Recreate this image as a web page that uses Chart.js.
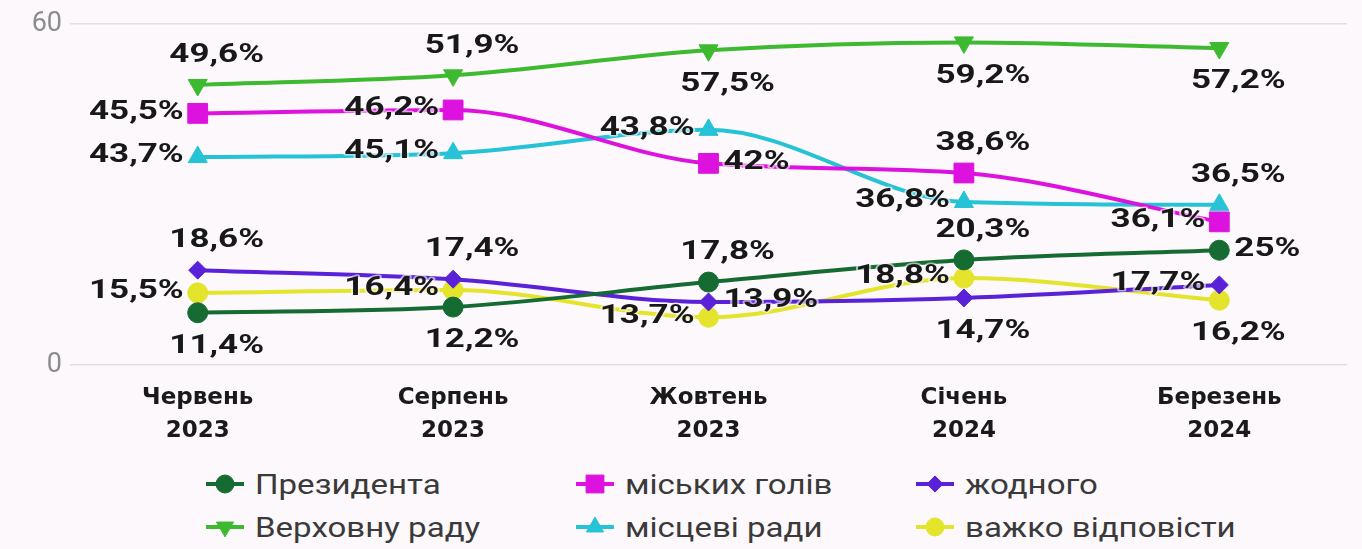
<!DOCTYPE html>
<html lang="uk">
<head>
<meta charset="utf-8">
<title>Довіра до інституцій</title>
<script src="https://cdn.jsdelivr.net/npm/chart.js@4.4.1/dist/chart.umd.min.js"></script>
<style>
    html, body {
        margin: 0;
        padding: 0;
        background: #fcf8fb;
        width: 1362px;
        height: 549px;
        overflow: hidden;
    }
    #wrap {
        position: absolute;
        left: 0;
        top: 0;
        width: 1362px;
        height: 450px;
    }
    .lg-item {
        position: absolute;
        display: flex;
        align-items: center;
        height: 30px;
        white-space: nowrap;
    }
    .lg-item canvas {
        display: block;
    }
    .lg-item span {
        display: inline-block;
        margin-left: 10px;
        font: 28px Roboto, sans-serif;
        color: #3a3a3a;
        transform: scaleX(1.18);
        transform-origin: left center;
    }
</style>
</head>
<body>
<div id="wrap"><canvas id="trustChart"></canvas></div>
<div id="legend"></div>
<script>
// Categories (survey waves)
const months = [
    ['Червень', '2023'],
    ['Серпень', '2023'],
    ['Жовтень', '2023'],
    ['Січень', '2024'],
    ['Березень', '2024']
];

// Printed values (the data labels), %
const presidentShare = [11.4, 12.2, 17.8, 20.3, 25];
const radaShare      = [49.6, 51.9, 57.5, 59.2, 57.2];
const mayorsShare    = [45.5, 46.2, 42, 38.6, 36.1];
const localShare     = [43.7, 45.1, 43.8, 36.8, 36.5];
const noneShare      = [18.6, 17.4, 13.9, 14.7, 17.7];
const hardShare      = [15.5, 16.4, 13.7, 18.8, 16.2];

// Heights at which the markers sit on the 0–60 axis
const presidentLevel = [9.2, 10.2, 14.6, 18.5, 20.2];
const radaLevel      = [49.3, 51.0, 55.4, 56.8, 55.8];
const mayorsLevel    = [44.3, 44.9, 35.5, 33.8, 25.2];
const localLevel     = [36.6, 37.3, 41.4, 28.7, 28.2];
const noneLevel      = [16.7, 15.1, 11.1, 11.8, 14.1];
const hardLevel      = [12.7, 13.2, 8.4, 15.3, 11.4];

const yTicks = [0, 60];

// Where each value label sits relative to its marker
const presidentPos = ['bottom', 'bottom', 'top', 'top', 'right'];
const radaPos      = ['top', 'top', 'bottom', 'bottom', 'bottom'];
const mayorsPos    = ['left', 'left', 'right', 'top', 'left'];
const localPos     = ['left', 'left', 'left', 'left', 'top'];
const nonePos      = ['top', 'top', 'right', 'bottom', 'left'];
const hardPos      = ['left', 'left', 'left', 'left', 'bottom'];

const series = [
    { label: 'Президента',        color: '#156b31', style: 'circle',   radius: 10, rotation: 0,   level: presidentLevel, share: presidentShare, pos: presidentPos },
    { label: 'міських голів',     color: '#de12de', style: 'rect',     radius: 14, rotation: 0,   level: mayorsLevel,    share: mayorsShare,    pos: mayorsPos },
    { label: 'жодного',           color: '#5a22d8', style: 'rectRot',  radius: 9,  rotation: 0,   level: noneLevel,      share: noneShare,      pos: nonePos },
    { label: 'Верховну раду',     color: '#3dba30', style: 'triangle', radius: 11, rotation: 180, level: radaLevel,      share: radaShare,      pos: radaPos },
    { label: 'місцеві ради',      color: '#26c2d6', style: 'triangle', radius: 11, rotation: 0,   level: localLevel,     share: localShare,     pos: localPos },
    { label: 'важко відповісти',  color: '#e4e42c', style: 'circle',   radius: 10, rotation: 0,   level: hardLevel,      share: hardShare,      pos: hardPos }
];

const LABEL_STRETCH = 1.4;

function fmtShare(v) {
    return String(v).replace('.', ',') + '%';
}

// Value labels next to the markers
const pointLabels = {
    id: 'pointLabels',
    afterDatasetsDraw(chart) {
        const ctx = chart.ctx;
        ctx.save();
        ctx.font = 'bold 25px Roboto';
        ctx.textBaseline = 'middle';
        ctx.lineJoin = 'round';
        chart.data.datasets.forEach((ds, i) => {
            const meta = chart.getDatasetMeta(i);
            meta.data.forEach((pt, j) => {
                const text = fmtShare(ds.share[j]);
                const w = ctx.measureText(text).width * LABEL_STRETCH;
                let x, y;
                switch (ds.pos[j]) {
                    case 'top':    x = pt.x + 19 - w / 2; y = pt.y - 29; break;
                    case 'bottom': x = pt.x + 19 - w / 2; y = pt.y + 34; break;
                    case 'left':   x = pt.x - 14 - w;     y = pt.y - 1;  break;
                    default:       x = pt.x + 15;         y = pt.y - 1;
                }
                ctx.save();
                ctx.translate(x, y);
                ctx.scale(LABEL_STRETCH, 1);
                ctx.strokeStyle = 'rgba(252, 248, 251, 0.6)';
                ctx.lineWidth = 3;
                ctx.strokeText(text, 0, 0);
                ctx.fillStyle = '#181818';
                ctx.fillText(text, 0, 0);
                ctx.restore();
            });
        });
        ctx.restore();
    }
};

const datasets = series.map(s => ({
    label: s.label,
    data: s.level,
    share: s.share,
    pos: s.pos,
    borderColor: s.color,
    backgroundColor: s.color,
    borderWidth: 4,
    cubicInterpolationMode: 'monotone',
    pointStyle: s.style,
    pointRadius: s.radius,
    pointRotation: s.rotation,
    pointBackgroundColor: s.color,
    pointBorderColor: s.color,
    pointBorderWidth: 1,
    clip: false
}));

new Chart(document.getElementById('trustChart'), {
    type: 'line',
    data: { labels: months, datasets: datasets },
    options: {
        responsive: true,
        maintainAspectRatio: false,
        animation: false,
        layout: { padding: { top: 24, right: 5, left: 0, bottom: 0 } },
        plugins: {
            legend: { display: false },
            tooltip: { enabled: false }
        },
        scales: {
            x: {
                offset: true,
                grid: { display: false, drawTicks: false },
                border: { display: false },
                ticks: {
                    color: '#1a1a1a',
                    padding: 17,
                    maxRotation: 0,
                    font: { family: 'DejaVu Sans', weight: 'bold', size: 23, lineHeight: 1.42 }
                },
                afterFit: scale => { scale.height = 85; }
            },
            y: {
                min: 0,
                max: 60,
                afterBuildTicks: scale => { scale.ticks = yTicks.map(v => ({ value: v })); },
                grid: { color: '#e2dfe4', lineWidth: 1.5, drawTicks: false },
                border: { display: false },
                ticks: {
                    color: '#8c8c8c',
                    padding: 8,
                    font: { family: 'Roboto', size: 27 }
                },
                afterFit: scale => { scale.width = 70; }
            }
        }
    },
    plugins: [pointLabels]
});

// Legend: line with marker + name, 3 columns x 2 rows
const legendCols = [205, 575, 915];
const legendRows = [469, 512];
const legendEl = document.getElementById('legend');

series.forEach((s, i) => {
    const item = document.createElement('div');
    item.className = 'lg-item';
    item.style.left = legendCols[i % 3] + 'px';
    item.style.top = legendRows[Math.floor(i / 3)] + 'px';

    const c = document.createElement('canvas');
    c.width = 40;
    c.height = 30;
    const g = c.getContext('2d');
    g.strokeStyle = s.color;
    g.fillStyle = s.color;
    g.lineWidth = 4;
    g.beginPath();
    g.moveTo(1, 15);
    g.lineTo(39, 15);
    g.stroke();
    g.lineWidth = 1;
    Chart.helpers.drawPoint(g, {
        pointStyle: s.style,
        radius: s.radius * 0.9,
        rotation: s.rotation,
        borderWidth: 1
    }, 20, 15);

    const t = document.createElement('span');
    t.textContent = s.label;

    item.appendChild(c);
    item.appendChild(t);
    legendEl.appendChild(item);
});
</script>
</body>
</html>
